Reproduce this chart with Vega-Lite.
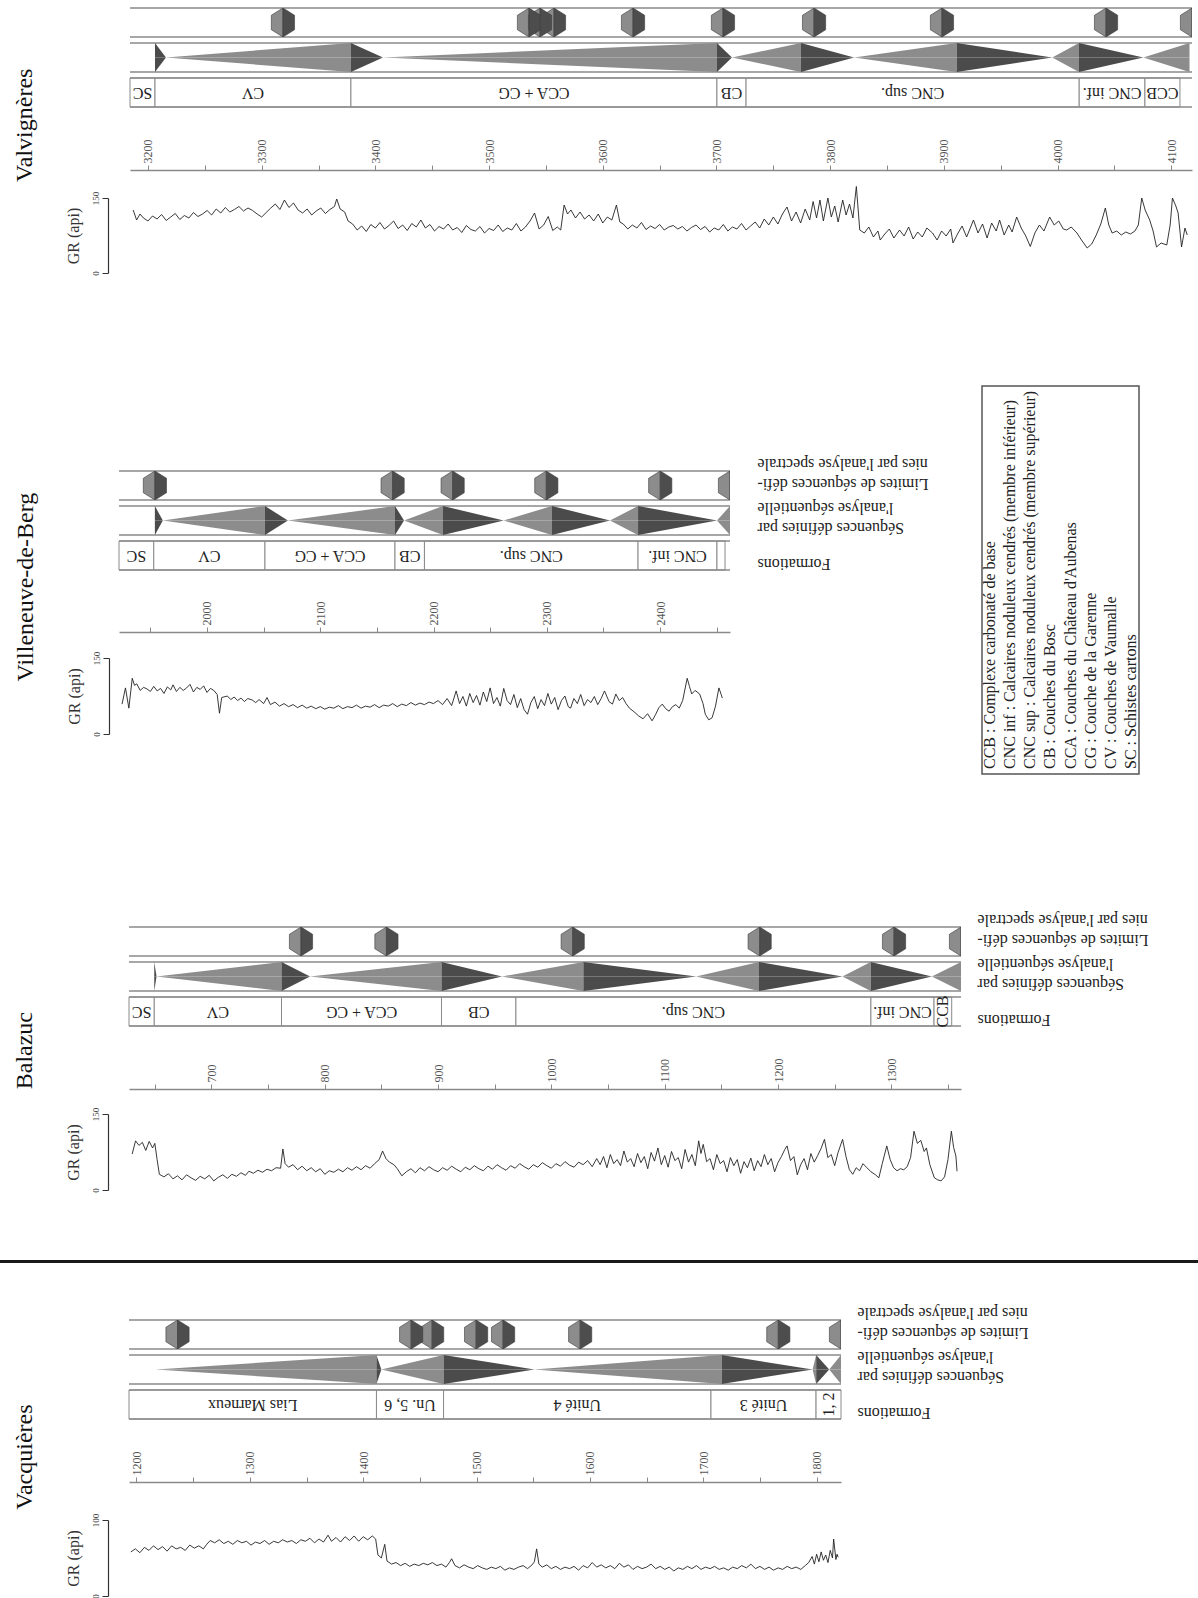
{
"$schema": "https://vega.github.io/schema/vega-lite/v6.json",
"padding": {"left": 0, "top": 7, "right": 0, "bottom": 0},
"background": "white",
"config": {
  "view": {"stroke": null},
  "font": "Liberation Serif",
  "title": {"font": "Liberation Serif", "fontWeight": "normal", "color": "#111"},
  "axisX": {"grid": false, "domainColor": "#8a8a8a", "domainWidth": 1.5, "tickColor": "#8a8a8a", "tickSize": 5, "labelAngle": 270, "labelAlign": "left", "labelBaseline": "middle", "labelPadding": 2, "labelFont": "Liberation Serif", "labelFontSize": 12, "labelColor": "#555", "labelFlush": false, "labelOverlap": false},
  "axisY": {"grid": false, "domainColor": "#333", "domainWidth": 1.2, "tickColor": "#333", "tickSize": 6, "labelAngle": 270, "labelAlign": "center", "labelBaseline": "bottom", "labelFont": "Liberation Serif", "labelFontSize": 9, "labelColor": "#444", "labelPadding": 2, "titleFont": "Liberation Serif", "titleFontSize": 16, "titleFontWeight": "normal", "titleColor": "#333", "titlePadding": 10, "labelFlush": false}
},
"datasets": {
  "hex": [
    {"s":"val","d":3318.7},{"s":"val","d":3535.1},{"s":"val","d":3544.8},{"s":"val","d":3557.1},{"s":"val","d":3626.6},{"s":"val","d":3705.7},{"s":"val","d":3785.8},{"s":"val","d":3898.3},{"s":"val","d":4042.6},{"s":"val","d":4118.2},
    {"s":"vil","d":1954},{"s":"vil","d":2163.9},{"s":"vil","d":2216.9},{"s":"vil","d":2299.6},{"s":"vil","d":2400.2},{"s":"vil","d":2461.8},
    {"s":"bal","d":779},{"s":"bal","d":854.4},{"s":"bal","d":1018.8},{"s":"bal","d":1183.8},{"s":"bal","d":1302.4},{"s":"bal","d":1361.5},
    {"s":"vac","d":1236.2},{"s":"vac","d":1442.3},{"s":"vac","d":1460.8},{"s":"vac","d":1499.6},{"s":"vac","d":1523.4},{"s":"vac","d":1591.4},{"s":"vac","d":1766.2},{"s":"vac","d":1821.5}
  ],
  "seq": [
    {"s":"val","t":1,"p":"f","d":3206.2,"a":1},{"s":"val","t":1,"p":"f","d":3215.8,"a":0},
    {"s":"val","t":2,"p":"r","d":3215.8,"a":0},{"s":"val","t":2,"p":"r","d":3378.5,"a":1},
    {"s":"val","t":3,"p":"f","d":3378.5,"a":1},{"s":"val","t":3,"p":"f","d":3406.7,"a":0},
    {"s":"val","t":4,"p":"r","d":3406.7,"a":0},{"s":"val","t":4,"p":"r","d":3700.4,"a":1},
    {"s":"val","t":5,"p":"f","d":3700.4,"a":1},{"s":"val","t":5,"p":"f","d":3713.6,"a":0},
    {"s":"val","t":6,"p":"r","d":3713.6,"a":0},{"s":"val","t":6,"p":"r","d":3774.3,"a":1},
    {"s":"val","t":7,"p":"f","d":3774.3,"a":1},{"s":"val","t":7,"p":"f","d":3821,"a":0},
    {"s":"val","t":8,"p":"r","d":3821,"a":0},{"s":"val","t":8,"p":"r","d":3911.2,"a":1},
    {"s":"val","t":9,"p":"f","d":3911.2,"a":1},{"s":"val","t":9,"p":"f","d":3995.3,"a":0},
    {"s":"val","t":10,"p":"r","d":3995.3,"a":0},{"s":"val","t":10,"p":"r","d":4018.8,"a":1},
    {"s":"val","t":11,"p":"f","d":4018.8,"a":1},{"s":"val","t":11,"p":"f","d":4075.4,"a":0},
    {"s":"val","t":12,"p":"r","d":4075.4,"a":0},{"s":"val","t":12,"p":"r","d":4116,"a":1},
    {"s":"vil","t":1,"p":"f","d":1954,"a":1},{"s":"vil","t":1,"p":"f","d":1961,"a":0},
    {"s":"vil","t":2,"p":"r","d":1961,"a":0},{"s":"vil","t":2,"p":"r","d":2051.2,"a":1},
    {"s":"vil","t":3,"p":"f","d":2051.2,"a":1},{"s":"vil","t":3,"p":"f","d":2071.4,"a":0},
    {"s":"vil","t":4,"p":"r","d":2071.4,"a":0},{"s":"vil","t":4,"p":"r","d":2166,"a":1},
    {"s":"vil","t":5,"p":"f","d":2166,"a":1},{"s":"vil","t":5,"p":"f","d":2174,"a":0},
    {"s":"vil","t":6,"p":"r","d":2174,"a":0},{"s":"vil","t":6,"p":"r","d":2208.4,"a":1},
    {"s":"vil","t":7,"p":"f","d":2208.4,"a":1},{"s":"vil","t":7,"p":"f","d":2262,"a":0},
    {"s":"vil","t":8,"p":"r","d":2262,"a":0},{"s":"vil","t":8,"p":"r","d":2304.6,"a":1},
    {"s":"vil","t":9,"p":"f","d":2304.6,"a":1},{"s":"vil","t":9,"p":"f","d":2355.8,"a":0},
    {"s":"vil","t":10,"p":"r","d":2355.8,"a":0},{"s":"vil","t":10,"p":"r","d":2380.6,"a":1},
    {"s":"vil","t":11,"p":"f","d":2380.6,"a":1},{"s":"vil","t":11,"p":"f","d":2450.3,"a":0},
    {"s":"vil","t":12,"p":"r","d":2450.3,"a":0},{"s":"vil","t":12,"p":"r","d":2461.8,"a":1},
    {"s":"bal","t":1,"p":"f","d":649.5,"a":1},{"s":"bal","t":1,"p":"f","d":651.5,"a":0},
    {"s":"bal","t":2,"p":"r","d":651.5,"a":0},{"s":"bal","t":2,"p":"r","d":761.8,"a":1},
    {"s":"bal","t":3,"p":"f","d":761.8,"a":1},{"s":"bal","t":3,"p":"f","d":787,"a":0},
    {"s":"bal","t":4,"p":"r","d":787,"a":0},{"s":"bal","t":4,"p":"r","d":903,"a":1},
    {"s":"bal","t":5,"p":"f","d":903,"a":1},{"s":"bal","t":5,"p":"f","d":956.4,"a":0},
    {"s":"bal","t":6,"p":"r","d":956.4,"a":0},{"s":"bal","t":6,"p":"r","d":1028.2,"a":1},
    {"s":"bal","t":7,"p":"f","d":1028.2,"a":1},{"s":"bal","t":7,"p":"f","d":1127.7,"a":0},
    {"s":"bal","t":8,"p":"r","d":1127.7,"a":0},{"s":"bal","t":8,"p":"r","d":1183.2,"a":1},
    {"s":"bal","t":9,"p":"f","d":1183.2,"a":1},{"s":"bal","t":9,"p":"f","d":1256.8,"a":0},
    {"s":"bal","t":10,"p":"r","d":1256.8,"a":0},{"s":"bal","t":10,"p":"r","d":1281.8,"a":1},
    {"s":"bal","t":11,"p":"f","d":1281.8,"a":1},{"s":"bal","t":11,"p":"f","d":1335.8,"a":0},
    {"s":"bal","t":12,"p":"r","d":1335.8,"a":0},{"s":"bal","t":12,"p":"r","d":1361.5,"a":1},
    {"s":"vac","t":1,"p":"r","d":1217,"a":0},{"s":"vac","t":1,"p":"r","d":1411.7,"a":1},
    {"s":"vac","t":2,"p":"f","d":1411.7,"a":1},{"s":"vac","t":2,"p":"f","d":1416,"a":0},
    {"s":"vac","t":3,"p":"r","d":1416,"a":0},{"s":"vac","t":3,"p":"r","d":1470.9,"a":1},
    {"s":"vac","t":4,"p":"f","d":1470.9,"a":1},{"s":"vac","t":4,"p":"f","d":1550.9,"a":0},
    {"s":"vac","t":5,"p":"r","d":1550.9,"a":0},{"s":"vac","t":5,"p":"r","d":1716.2,"a":1},
    {"s":"vac","t":6,"p":"f","d":1716.2,"a":1},{"s":"vac","t":6,"p":"f","d":1796.4,"a":0},
    {"s":"vac","t":7,"p":"r","d":1796.4,"a":0},{"s":"vac","t":7,"p":"r","d":1799.6,"a":1},
    {"s":"vac","t":8,"p":"f","d":1799.6,"a":1},{"s":"vac","t":8,"p":"f","d":1811.1,"a":0},
    {"s":"vac","t":9,"p":"r","d":1811.1,"a":0},{"s":"vac","t":9,"p":"r","d":1821.5,"a":1}
  ],
  "form": [
    {"s":"val","n":"SC","d0":3184.2,"d1":3206.2},{"s":"val","n":"CV","d0":3206.2,"d1":3378.5},{"s":"val","n":"CCA + CG","d0":3378.5,"d1":3700.4},{"s":"val","n":"CB","d0":3700.4,"d1":3726},{"s":"val","n":"CNC sup.","d0":3726,"d1":4019},{"s":"val","n":"CNC inf.","d0":4019,"d1":4076.8},{"s":"val","n":"CCB","d0":4076.8,"d1":4107.6},
    {"s":"vil","n":"SC","d0":1922.3,"d1":1953},{"s":"vil","n":"CV","d0":1953,"d1":2051.2},{"s":"vil","n":"CCA + CG","d0":2051.2,"d1":2166},{"s":"vil","n":"CB","d0":2166,"d1":2192},{"s":"vil","n":"CNC sup.","d0":2192,"d1":2380.6},{"s":"vil","n":"CNC inf.","d0":2380.6,"d1":2450.3},{"s":"vil","n":"","d0":2450.3,"d1":2457.4},
    {"s":"bal","n":"SC","d0":627.2,"d1":649.5},{"s":"bal","n":"CV","d0":649.5,"d1":761.8},{"s":"bal","n":"CCA + CG","d0":761.8,"d1":903},{"s":"bal","n":"CB","d0":903,"d1":968.7},{"s":"bal","n":"CNC sup.","d0":968.7,"d1":1282},{"s":"bal","n":"CNC inf.","d0":1282,"d1":1337.7},{"s":"bal","n":"CCB","d0":1337.7,"d1":1353.3},
    {"s":"vac","n":"Lias Marneux","d0":1193.4,"d1":1411.7},{"s":"vac","n":"Un. 5, 6","d0":1411.7,"d1":1470.9},{"s":"vac","n":"Unité 4","d0":1470.9,"d1":1706.8},{"s":"vac","n":"Unité 3","d0":1706.8,"d1":1799.5},{"s":"vac","n":"1, 2","d0":1799.5,"d1":1821.5}
  ],
  "leg": [
    {"i":1,"t":"CCB : Complexe carbonaté de base"},
    {"i":2,"t":"CNC inf : Calcaires noduleux cendrés (membre inférieur)"},
    {"i":3,"t":"CNC sup : Calcaires noduleux cendrés (membre supérieur)"},
    {"i":4,"t":"CB : Couches du Bosc"},
    {"i":5,"t":"CCA : Couches du Château d'Aubenas"},
    {"i":6,"t":"CG : Couche de la Garenne"},
    {"i":7,"t":"CV : Couches de Vaumalle"},
    {"i":8,"t":"SC : Schistes cartons"}
  ],
  "gval": [
    {"d":3187,"g":126},{"d":3190,"g":106},{"d":3193,"g":118},{"d":3196,"g":110},{"d":3200,"g":104},{"d":3204,"g":114},{"d":3208,"g":108},{"d":3212,"g":117},{"d":3216,"g":105},{"d":3220,"g":112},{"d":3224,"g":119},{"d":3228,"g":107},{"d":3232,"g":115},{"d":3236,"g":110},{"d":3240,"g":121},{"d":3244,"g":113},{"d":3248,"g":118},{"d":3252,"g":125},{"d":3256,"g":116},{"d":3260,"g":128},{"d":3264,"g":120},{"d":3268,"g":131},{"d":3272,"g":122},{"d":3276,"g":127},{"d":3280,"g":133},{"d":3284,"g":124},{"d":3288,"g":130},{"d":3292,"g":125},{"d":3296,"g":118},{"d":3300,"g":112},{"d":3304,"g":121},{"d":3308,"g":130},{"d":3312,"g":138},{"d":3316,"g":127},{"d":3320,"g":146},{"d":3324,"g":131},{"d":3328,"g":140},{"d":3332,"g":126},{"d":3336,"g":120},{"d":3340,"g":128},{"d":3344,"g":116},{"d":3348,"g":124},{"d":3352,"g":130},{"d":3356,"g":119},{"d":3360,"g":127},{"d":3364,"g":133},{"d":3366,"g":148},{"d":3369,"g":128},{"d":3373,"g":122},{"d":3376,"g":104},
    {"d":3380,"g":98},{"d":3384,"g":86},{"d":3388,"g":94},{"d":3392,"g":83},{"d":3396,"g":97},{"d":3400,"g":90},{"d":3404,"g":101},{"d":3408,"g":88},{"d":3412,"g":95},{"d":3416,"g":104},{"d":3420,"g":89},{"d":3424,"g":96},{"d":3428,"g":85},{"d":3432,"g":99},{"d":3436,"g":92},{"d":3440,"g":106},{"d":3444,"g":90},{"d":3448,"g":97},{"d":3452,"g":84},{"d":3456,"g":93},{"d":3460,"g":88},{"d":3464,"g":98},{"d":3468,"g":86},{"d":3472,"g":91},{"d":3476,"g":81},{"d":3480,"g":95},{"d":3484,"g":87},{"d":3488,"g":84},{"d":3492,"g":93},{"d":3496,"g":80},{"d":3500,"g":89},{"d":3504,"g":85},{"d":3508,"g":96},{"d":3512,"g":83},{"d":3516,"g":90},{"d":3520,"g":86},{"d":3524,"g":99},{"d":3528,"g":84},{"d":3532,"g":92},{"d":3536,"g":104},{"d":3540,"g":120},{"d":3544,"g":88},{"d":3548,"g":96},{"d":3552,"g":113},{"d":3556,"g":85},{"d":3560,"g":92},{"d":3563,"g":86},
    {"d":3566,"g":136},{"d":3569,"g":118},{"d":3572,"g":126},{"d":3576,"g":110},{"d":3580,"g":122},{"d":3584,"g":108},{"d":3588,"g":116},{"d":3592,"g":104},{"d":3596,"g":118},{"d":3600,"g":100},{"d":3604,"g":112},{"d":3608,"g":106},{"d":3612,"g":136},{"d":3615,"g":102},
    {"d":3618,"g":98},{"d":3622,"g":88},{"d":3626,"g":96},{"d":3630,"g":90},{"d":3634,"g":101},{"d":3638,"g":87},{"d":3642,"g":94},{"d":3646,"g":89},{"d":3650,"g":97},{"d":3654,"g":86},{"d":3658,"g":92},{"d":3662,"g":95},{"d":3666,"g":88},{"d":3670,"g":93},{"d":3674,"g":84},{"d":3678,"g":91},{"d":3682,"g":96},{"d":3686,"g":87},{"d":3690,"g":93},{"d":3694,"g":82},{"d":3698,"g":90},{"d":3702,"g":86},{"d":3706,"g":97},{"d":3710,"g":84},{"d":3714,"g":92},{"d":3718,"g":88},{"d":3722,"g":99},{"d":3726,"g":86},
    {"d":3730,"g":94},{"d":3734,"g":102},{"d":3738,"g":90},{"d":3742,"g":108},{"d":3746,"g":96},{"d":3750,"g":112},{"d":3754,"g":98},{"d":3758,"g":118},{"d":3762,"g":132},{"d":3766,"g":104},{"d":3770,"g":122},{"d":3774,"g":100},{"d":3778,"g":128},{"d":3782,"g":106},{"d":3785,"g":143},{"d":3788,"g":110},{"d":3791,"g":146},{"d":3794,"g":104},{"d":3798,"g":150},{"d":3801,"g":112},{"d":3804,"g":134},{"d":3807,"g":102},{"d":3811,"g":146},{"d":3814,"g":116},{"d":3817,"g":138},{"d":3820,"g":110},{"d":3823,"g":173},{"d":3826,"g":86},
    {"d":3830,"g":80},{"d":3834,"g":92},{"d":3838,"g":72},{"d":3842,"g":84},{"d":3844,"g":66},{"d":3848,"g":78},{"d":3852,"g":88},{"d":3856,"g":70},{"d":3861,"g":86},{"d":3865,"g":74},{"d":3869,"g":92},{"d":3873,"g":68},{"d":3877,"g":82},{"d":3881,"g":72},{"d":3885,"g":90},{"d":3890,"g":80},{"d":3894,"g":66},{"d":3898,"g":84},{"d":3902,"g":74},{"d":3906,"g":88},{"d":3908,"g":60},{"d":3912,"g":78},{"d":3916,"g":94},{"d":3920,"g":72},
    {"d":3926,"g":106},{"d":3930,"g":80},{"d":3934,"g":98},{"d":3938,"g":70},{"d":3942,"g":100},{"d":3946,"g":84},{"d":3949,"g":106},{"d":3953,"g":76},{"d":3957,"g":96},{"d":3960,"g":82},{"d":3964,"g":112},{"d":3968,"g":90},{"d":3972,"g":74},{"d":3976,"g":53},{"d":3980,"g":80},{"d":3984,"g":96},{"d":3988,"g":84},{"d":3993,"g":112},{"d":3997,"g":96},{"d":4001,"g":104},{"d":4005,"g":88},{"d":4008,"g":86},{"d":4012,"g":92},{"d":4017,"g":80},
    {"d":4021,"g":66},{"d":4026,"g":50},{"d":4030,"g":58},{"d":4034,"g":76},{"d":4038,"g":98},{"d":4042,"g":130},{"d":4045,"g":96},{"d":4048,"g":80},{"d":4052,"g":84},{"d":4056,"g":76},{"d":4060,"g":82},{"d":4064,"g":78},{"d":4068,"g":84},{"d":4071,"g":96},{"d":4074,"g":150},{"d":4077,"g":126},{"d":4081,"g":106},{"d":4084,"g":84},{"d":4087,"g":52},{"d":4091,"g":60},{"d":4096,"g":56},{"d":4099,"g":96},{"d":4101,"g":150},{"d":4104,"g":134},{"d":4106,"g":120},{"d":4109,"g":52},{"d":4112,"g":90},{"d":4114,"g":76}
  ],
  "gvil": [
    {"d":1925,"g":59},{"d":1928,"g":91},{"d":1931,"g":51},{"d":1934,"g":110},{"d":1936,"g":96},{"d":1938,"g":99},{"d":1941,"g":86},{"d":1944,"g":92},{"d":1947,"g":89},{"d":1950,"g":84},{"d":1953,"g":94},{"d":1956,"g":85},{"d":1959,"g":90},{"d":1962,"g":80},{"d":1965,"g":93},{"d":1968,"g":87},{"d":1970,"g":97},{"d":1973,"g":84},{"d":1976,"g":92},{"d":1979,"g":86},{"d":1982,"g":91},{"d":1985,"g":98},{"d":1988,"g":83},{"d":1991,"g":92},{"d":1994,"g":88},{"d":1997,"g":95},{"d":2000,"g":82},{"d":2003,"g":90},{"d":2006,"g":86},{"d":2009,"g":78},{"d":2011,"g":41},{"d":2013,"g":72},{"d":2018,"g":75},{"d":2021,"g":68},{"d":2024,"g":73},{"d":2027,"g":66},{"d":2030,"g":71},{"d":2033,"g":64},{"d":2036,"g":70},{"d":2040,"g":67},{"d":2043,"g":62},{"d":2046,"g":68},{"d":2050,"g":60},{"d":2053,"g":72},{"d":2056,"g":58},{"d":2060,"g":63},{"d":2064,"g":55},{"d":2068,"g":60},{"d":2072,"g":54},{"d":2076,"g":58},{"d":2080,"g":52},{"d":2084,"g":57},{"d":2088,"g":51},{"d":2092,"g":55},{"d":2096,"g":50},{"d":2100,"g":54},{"d":2104,"g":49},{"d":2108,"g":53},{"d":2112,"g":51},{"d":2116,"g":56},{"d":2120,"g":50},{"d":2124,"g":54},{"d":2128,"g":52},{"d":2132,"g":57},{"d":2136,"g":51},{"d":2140,"g":55},{"d":2144,"g":53},{"d":2148,"g":58},{"d":2152,"g":52},{"d":2156,"g":57},{"d":2160,"g":55},{"d":2164,"g":60},{"d":2168,"g":54},{"d":2172,"g":59},{"d":2176,"g":56},{"d":2180,"g":62},{"d":2184,"g":57},{"d":2188,"g":61},{"d":2192,"g":58},{"d":2196,"g":63},{"d":2200,"g":60},{"d":2204,"g":66},{"d":2208,"g":58},{"d":2212,"g":70},{"d":2216,"g":56},{"d":2220,"g":85},{"d":2223,"g":60},{"d":2226,"g":74},{"d":2229,"g":55},{"d":2232,"g":80},{"d":2235,"g":62},{"d":2238,"g":76},{"d":2241,"g":57},{"d":2244,"g":83},{"d":2247,"g":64},{"d":2250,"g":91},{"d":2253,"g":60},{"d":2256,"g":72},{"d":2259,"g":55},{"d":2262,"g":90},{"d":2265,"g":66},{"d":2268,"g":58},{"d":2271,"g":78},{"d":2274,"g":52},{"d":2277,"g":70},{"d":2280,"g":48},{"d":2283,"g":39},{"d":2286,"g":62},{"d":2289,"g":74},{"d":2292,"g":50},{"d":2295,"g":68},{"d":2298,"g":56},{"d":2301,"g":80},{"d":2304,"g":59},{"d":2307,"g":72},{"d":2310,"g":48},{"d":2313,"g":66},{"d":2316,"g":75},{"d":2319,"g":54},{"d":2321,"g":51},{"d":2324,"g":70},{"d":2327,"g":60},{"d":2330,"g":78},{"d":2333,"g":56},{"d":2336,"g":68},{"d":2339,"g":62},{"d":2342,"g":74},{"d":2345,"g":58},{"d":2348,"g":70},{"d":2351,"g":85},{"d":2355,"g":64},{"d":2358,"g":59},{"d":2361,"g":79},{"d":2364,"g":66},{"d":2367,"g":72},{"d":2370,"g":60},{"d":2373,"g":51},{"d":2377,"g":44},{"d":2381,"g":36},{"d":2385,"g":30},{"d":2389,"g":40},{"d":2393,"g":26},{"d":2396,"g":38},{"d":2399,"g":52},{"d":2402,"g":59},{"d":2405,"g":50},{"d":2408,"g":45},{"d":2411,"g":54},{"d":2414,"g":58},{"d":2417,"g":51},{"d":2420,"g":66},{"d":2424,"g":110},{"d":2426,"g":94},{"d":2428,"g":79},{"d":2431,"g":86},{"d":2435,"g":79},{"d":2438,"g":60},{"d":2440,"g":39},{"d":2443,"g":28},{"d":2446,"g":32},{"d":2449,"g":55},{"d":2452,"g":91},{"d":2454,"g":78},{"d":2455,"g":71}
  ],
  "gbal": [
    {"d":630,"g":71},{"d":633,"g":97},{"d":636,"g":88},{"d":639,"g":94},{"d":642,"g":78},{"d":645,"g":96},{"d":648,"g":83},{"d":650,"g":92},{"d":652,"g":60},{"d":654,"g":31},{"d":658,"g":26},{"d":662,"g":32},{"d":666,"g":22},{"d":670,"g":28},{"d":674,"g":20},{"d":678,"g":30},{"d":682,"g":24},{"d":686,"g":19},{"d":690,"g":27},{"d":694,"g":22},{"d":698,"g":29},{"d":702,"g":18},{"d":706,"g":25},{"d":710,"g":30},{"d":714,"g":23},{"d":718,"g":31},{"d":722,"g":27},{"d":726,"g":34},{"d":730,"g":29},{"d":733,"g":37},{"d":737,"g":33},{"d":741,"g":39},{"d":745,"g":35},{"d":749,"g":41},{"d":753,"g":38},{"d":757,"g":44},{"d":761,"g":43},{"d":763,"g":81},{"d":765,"g":52},{"d":768,"g":45},{"d":772,"g":50},{"d":776,"g":40},{"d":780,"g":47},{"d":784,"g":38},{"d":788,"g":44},{"d":792,"g":36},{"d":796,"g":42},{"d":800,"g":31},{"d":804,"g":38},{"d":808,"g":35},{"d":812,"g":41},{"d":816,"g":36},{"d":820,"g":44},{"d":824,"g":39},{"d":828,"g":46},{"d":832,"g":40},{"d":836,"g":48},{"d":840,"g":43},{"d":844,"g":52},{"d":848,"g":60},{"d":851,"g":77},{"d":854,"g":62},{"d":857,"g":55},{"d":861,"g":50},{"d":864,"g":42},{"d":868,"g":28},{"d":872,"g":36},{"d":876,"g":42},{"d":880,"g":34},{"d":884,"g":44},{"d":888,"g":38},{"d":892,"g":46},{"d":896,"g":40},{"d":900,"g":36},{"d":904,"g":44},{"d":908,"g":39},{"d":912,"g":47},{"d":916,"g":41},{"d":920,"g":36},{"d":924,"g":45},{"d":928,"g":40},{"d":932,"g":48},{"d":936,"g":42},{"d":940,"g":38},{"d":944,"g":47},{"d":948,"g":41},{"d":952,"g":50},{"d":956,"g":44},{"d":960,"g":39},{"d":964,"g":48},{"d":968,"g":43},{"d":972,"g":52},{"d":976,"g":46},{"d":980,"g":41},{"d":984,"g":50},{"d":988,"g":45},{"d":992,"g":54},{"d":996,"g":48},{"d":1000,"g":43},{"d":1004,"g":52},{"d":1008,"g":47},{"d":1012,"g":56},{"d":1016,"g":49},{"d":1020,"g":45},{"d":1024,"g":55},{"d":1028,"g":50},{"d":1032,"g":58},{"d":1036,"g":46},{"d":1040,"g":62},{"d":1043,"g":50},{"d":1046,"g":66},{"d":1049,"g":44},{"d":1052,"g":70},{"d":1055,"g":52},{"d":1058,"g":60},{"d":1061,"g":48},{"d":1064,"g":77},{"d":1067,"g":55},{"d":1070,"g":62},{"d":1073,"g":46},{"d":1076,"g":72},{"d":1079,"g":54},{"d":1082,"g":66},{"d":1085,"g":42},{"d":1088,"g":74},{"d":1091,"g":57},{"d":1094,"g":83},{"d":1097,"g":50},{"d":1100,"g":68},{"d":1103,"g":45},{"d":1106,"g":76},{"d":1109,"g":58},{"d":1112,"g":64},{"d":1115,"g":42},{"d":1118,"g":80},{"d":1121,"g":55},{"d":1124,"g":70},{"d":1127,"g":48},{"d":1130,"g":97},{"d":1132,"g":72},{"d":1134,"g":90},{"d":1137,"g":56},{"d":1140,"g":62},{"d":1143,"g":40},{"d":1146,"g":70},{"d":1149,"g":52},{"d":1152,"g":58},{"d":1155,"g":36},{"d":1158,"g":64},{"d":1161,"g":48},{"d":1164,"g":60},{"d":1167,"g":33},{"d":1170,"g":56},{"d":1173,"g":44},{"d":1176,"g":63},{"d":1179,"g":38},{"d":1182,"g":58},{"d":1185,"g":46},{"d":1188,"g":70},{"d":1191,"g":50},{"d":1194,"g":62},{"d":1197,"g":36},{"d":1200,"g":54},{"d":1203,"g":66},{"d":1206,"g":80},{"d":1208,"g":87},{"d":1211,"g":58},{"d":1214,"g":66},{"d":1217,"g":30},{"d":1220,"g":50},{"d":1223,"g":62},{"d":1226,"g":40},{"d":1229,"g":72},{"d":1232,"g":55},{"d":1235,"g":68},{"d":1238,"g":82},{"d":1241,"g":100},{"d":1244,"g":64},{"d":1247,"g":70},{"d":1250,"g":48},{"d":1253,"g":74},{"d":1257,"g":100},{"d":1260,"g":66},{"d":1263,"g":40},{"d":1266,"g":31},{"d":1269,"g":44},{"d":1272,"g":38},{"d":1275,"g":52},{"d":1278,"g":45},{"d":1282,"g":36},{"d":1286,"g":30},{"d":1289,"g":24},{"d":1292,"g":52},{"d":1296,"g":87},{"d":1299,"g":60},{"d":1302,"g":44},{"d":1305,"g":38},{"d":1308,"g":42},{"d":1311,"g":40},{"d":1314,"g":46},{"d":1317,"g":64},{"d":1320,"g":116},{"d":1323,"g":92},{"d":1326,"g":98},{"d":1329,"g":76},{"d":1331,"g":83},{"d":1334,"g":50},{"d":1338,"g":24},{"d":1341,"g":20},{"d":1344,"g":18},{"d":1347,"g":26},{"d":1350,"g":60},{"d":1353,"g":116},{"d":1355,"g":84},{"d":1357,"g":67},{"d":1358,"g":37}
  ],
  "gvac": [
    {"d":1195,"g":58},{"d":1199,"g":62},{"d":1203,"g":57},{"d":1207,"g":64},{"d":1211,"g":60},{"d":1215,"g":66},{"d":1219,"g":61},{"d":1223,"g":65},{"d":1227,"g":59},{"d":1231,"g":66},{"d":1235,"g":62},{"d":1239,"g":64},{"d":1243,"g":60},{"d":1247,"g":67},{"d":1251,"g":63},{"d":1255,"g":66},{"d":1259,"g":62},{"d":1262,"g":68},{"d":1265,"g":73},{"d":1269,"g":70},{"d":1273,"g":74},{"d":1277,"g":69},{"d":1281,"g":72},{"d":1285,"g":68},{"d":1289,"g":73},{"d":1293,"g":70},{"d":1297,"g":72},{"d":1301,"g":67},{"d":1305,"g":71},{"d":1309,"g":69},{"d":1313,"g":73},{"d":1317,"g":68},{"d":1321,"g":72},{"d":1325,"g":70},{"d":1329,"g":74},{"d":1333,"g":71},{"d":1337,"g":73},{"d":1341,"g":69},{"d":1345,"g":74},{"d":1349,"g":72},{"d":1353,"g":76},{"d":1357,"g":70},{"d":1361,"g":75},{"d":1365,"g":71},{"d":1369,"g":80},{"d":1372,"g":72},{"d":1376,"g":77},{"d":1380,"g":71},{"d":1384,"g":78},{"d":1388,"g":73},{"d":1392,"g":79},{"d":1396,"g":72},{"d":1400,"g":78},{"d":1404,"g":74},{"d":1408,"g":79},{"d":1411,"g":75},{"d":1413,"g":54},{"d":1416,"g":50},{"d":1419,"g":68},{"d":1421,"g":46},{"d":1425,"g":42},{"d":1429,"g":44},{"d":1433,"g":40},{"d":1437,"g":43},{"d":1441,"g":39},{"d":1445,"g":42},{"d":1449,"g":40},{"d":1453,"g":43},{"d":1457,"g":41},{"d":1461,"g":44},{"d":1465,"g":40},{"d":1469,"g":42},{"d":1473,"g":38},{"d":1476,"g":44},{"d":1478,"g":49},{"d":1481,"g":40},{"d":1485,"g":37},{"d":1489,"g":41},{"d":1493,"g":38},{"d":1497,"g":36},{"d":1501,"g":40},{"d":1505,"g":37},{"d":1509,"g":35},{"d":1513,"g":38},{"d":1517,"g":36},{"d":1521,"g":39},{"d":1525,"g":34},{"d":1529,"g":37},{"d":1533,"g":35},{"d":1537,"g":38},{"d":1541,"g":40},{"d":1545,"g":36},{"d":1549,"g":41},{"d":1551,"g":45},{"d":1553,"g":62},{"d":1555,"g":42},{"d":1558,"g":38},{"d":1562,"g":41},{"d":1566,"g":36},{"d":1570,"g":39},{"d":1574,"g":35},{"d":1578,"g":38},{"d":1582,"g":36},{"d":1586,"g":39},{"d":1590,"g":34},{"d":1594,"g":40},{"d":1598,"g":37},{"d":1602,"g":44},{"d":1606,"g":38},{"d":1610,"g":41},{"d":1614,"g":37},{"d":1618,"g":40},{"d":1622,"g":36},{"d":1626,"g":43},{"d":1630,"g":38},{"d":1634,"g":41},{"d":1638,"g":35},{"d":1642,"g":39},{"d":1646,"g":36},{"d":1650,"g":38},{"d":1654,"g":42},{"d":1658,"g":36},{"d":1662,"g":39},{"d":1666,"g":35},{"d":1670,"g":38},{"d":1674,"g":33},{"d":1678,"g":37},{"d":1682,"g":35},{"d":1686,"g":39},{"d":1690,"g":36},{"d":1694,"g":40},{"d":1698,"g":35},{"d":1702,"g":38},{"d":1706,"g":36},{"d":1710,"g":39},{"d":1714,"g":35},{"d":1718,"g":37},{"d":1722,"g":34},{"d":1726,"g":38},{"d":1730,"g":36},{"d":1734,"g":40},{"d":1738,"g":37},{"d":1742,"g":42},{"d":1746,"g":36},{"d":1750,"g":39},{"d":1754,"g":35},{"d":1758,"g":38},{"d":1762,"g":34},{"d":1766,"g":37},{"d":1770,"g":35},{"d":1774,"g":39},{"d":1778,"g":36},{"d":1782,"g":38},{"d":1786,"g":35},{"d":1790,"g":40},{"d":1793,"g":44},{"d":1796,"g":52},{"d":1798,"g":42},{"d":1800,"g":55},{"d":1802,"g":45},{"d":1804,"g":58},{"d":1806,"g":47},{"d":1808,"g":54},{"d":1810,"g":44},{"d":1812,"g":60},{"d":1814,"g":50},{"d":1815,"g":75},{"d":1817,"g":48},{"d":1818,"g":55},{"d":1819,"g":51}
  ]
},
"spacing": 0,
"vconcat": [
  {"spacing": 0, "hconcat": [
    {"width": 13, "height": 1, "data": {"values": []}, "mark": "point"},
    {"title": {"text": "Valvignères", "orient": "left", "anchor": "middle", "frame": "bounds", "fontSize": 24, "offset": 28, "dx": 16},
     "bounds": "flush", "spacing": 6,
     "vconcat": [
      {"width": 1062, "height": 29, "layer": [
        {"data": {"values": [{}]}, "mark": {"type": "rule", "color": "#8a8a8a", "strokeWidth": 1.5}, "encoding": {"y": {"datum": 0, "type": "quantitative", "scale": {"domain": [0, 1]}, "axis": null}}},
        {"data": {"values": [{}]}, "mark": {"type": "rule", "color": "#8a8a8a", "strokeWidth": 1.5}, "encoding": {"y": {"datum": 1, "type": "quantitative", "scale": {"domain": [0, 1]}, "axis": null}}},
        {"data": {"name": "hex"}, "transform": [{"filter": "datum.s === 'val'"}], "mark": {"type": "point", "shape": "M0,-1L-0.8,-0.5L-0.8,0.5L0,1Z", "size": 841, "filled": true, "color": "#8c8c8c", "stroke": "#3c3c3c", "strokeWidth": 0.6, "opacity": 1, "clip": true}, "encoding": {"x": {"field": "d", "type": "quantitative", "scale": {"domain": [3184.2, 4118.2], "nice": false, "zero": false}, "axis": null}}},
        {"data": {"name": "hex"}, "transform": [{"filter": "datum.s === 'val'"}], "mark": {"type": "point", "shape": "M0,-1L0.8,-0.5L0.8,0.5L0,1Z", "size": 841, "filled": true, "color": "#4d4d4d", "stroke": "#3c3c3c", "strokeWidth": 0.6, "opacity": 1, "clip": true}, "encoding": {"x": {"field": "d", "type": "quantitative", "scale": {"domain": [3184.2, 4118.2], "nice": false, "zero": false}, "axis": null}}}
      ]},
      {"width": 1062, "height": 29, "resolve": {"scale": {"y": "independent"}}, "layer": [
        {"data": {"values": [{}]}, "mark": {"type": "rule", "color": "#8a8a8a", "strokeWidth": 1.5}, "encoding": {"y": {"datum": 0, "type": "quantitative", "scale": {"domain": [0, 1]}, "axis": null}}},
        {"data": {"values": [{}]}, "mark": {"type": "rule", "color": "#8a8a8a", "strokeWidth": 1.5}, "encoding": {"y": {"datum": 1, "type": "quantitative", "scale": {"domain": [0, 1]}, "axis": null}}},
        {"data": {"name": "seq"}, "transform": [{"filter": "datum.s === 'val'"}], "mark": {"type": "area", "orient": "vertical", "opacity": 1}, "encoding": {"x": {"field": "d", "type": "quantitative", "scale": {"domain": [3184.2, 4118.2], "nice": false, "zero": false}, "axis": null}, "y": {"field": "a", "type": "quantitative", "scale": {"domain": [-1, 1]}, "axis": null, "stack": null}, "y2": {"datum": 0}, "detail": {"field": "t", "type": "nominal"}, "color": {"field": "p", "type": "nominal", "scale": {"domain": ["r", "f"], "range": ["#8c8c8c", "#4b4b4b"]}, "legend": null}}},
        {"data": {"name": "seq"}, "transform": [{"filter": "datum.s === 'val'"}], "mark": {"type": "area", "orient": "vertical", "opacity": 1}, "encoding": {"x": {"field": "d", "type": "quantitative", "scale": {"domain": [3184.2, 4118.2], "nice": false, "zero": false}, "axis": null}, "y": {"field": "a", "type": "quantitative", "scale": {"domain": [-1, 1], "reverse": true}, "axis": null, "stack": null}, "y2": {"datum": 0}, "detail": {"field": "t", "type": "nominal"}, "color": {"field": "p", "type": "nominal", "scale": {"domain": ["r", "f"], "range": ["#8c8c8c", "#4b4b4b"]}, "legend": null}}}
      ]},
      {"width": 1062, "height": 29, "layer": [
        {"data": {"name": "form"}, "transform": [{"filter": "datum.s === 'val'"}], "mark": {"type": "rect", "fill": "white", "stroke": "#8a8a8a", "strokeWidth": 1}, "encoding": {"x": {"field": "d0", "type": "quantitative", "scale": {"domain": [3184.2, 4118.2], "nice": false, "zero": false}, "axis": null}, "x2": {"field": "d1"}}},
        {"data": {"values": [{}]}, "mark": {"type": "rule", "color": "#8a8a8a", "strokeWidth": 1.5}, "encoding": {"y": {"datum": 0, "type": "quantitative", "scale": {"domain": [0, 1]}, "axis": null}}},
        {"data": {"values": [{}]}, "mark": {"type": "rule", "color": "#8a8a8a", "strokeWidth": 1.5}, "encoding": {"y": {"datum": 1, "type": "quantitative", "scale": {"domain": [0, 1]}, "axis": null}}},
        {"data": {"name": "form"}, "transform": [{"filter": "datum.s === 'val'"}, {"fold": ["d0", "d1"], "as": ["k", "v"]}], "mark": {"type": "text", "angle": 180, "fontSize": 16, "font": "Liberation Serif", "color": "#222", "baseline": "middle", "align": "center"}, "encoding": {"x": {"field": "v", "aggregate": "mean", "type": "quantitative", "scale": {"domain": [3184.2, 4118.2], "nice": false, "zero": false}, "axis": null}, "text": {"field": "n", "type": "nominal"}}}
      ]},
      {"width": 1, "height": 79, "data": {"values": []}, "mark": "point"},
      {"width": 1062, "height": 75, "data": {"name": "gval"}, "mark": {"type": "line", "color": "#222", "strokeWidth": 0.9},
       "encoding": {
         "x": {"field": "d", "type": "quantitative", "scale": {"domain": [3184.2, 4118.2], "nice": false, "zero": false}, "axis": {"orient": "top", "offset": 28, "title": null, "format": "d", "values": [3200,3250,3300,3350,3400,3450,3500,3550,3600,3650,3700,3750,3800,3850,3900,3950,4000,4050,4100], "labelExpr": "datum.value % 100 === 0 ? datum.label : ''"}},
         "y": {"field": "g", "type": "quantitative", "scale": {"domain": [0, 150], "nice": false}, "axis": {"offset": 22, "values": [0, 150], "title": "GR (api)"}}
       }}
    ]}
  ]},
  {"width": 1, "height": 109, "data": {"values": []}, "mark": "point"},
  {"spacing": 0, "hconcat": [
    {"width": 13, "height": 1, "data": {"values": []}, "mark": "point"},
    {"title": {"text": "Villeneuve-de-Berg", "orient": "left", "anchor": "middle", "frame": "bounds", "fontSize": 24, "offset": 28, "dx": -26},
     "bounds": "flush", "spacing": 6,
     "vconcat": [
      {"width": 1, "height": 79, "data": {"values": []}, "mark": "point"},
      {"width": 611, "height": 29, "layer": [
        {"data": {"values": [{}]}, "mark": {"type": "rule", "color": "#8a8a8a", "strokeWidth": 1.5}, "encoding": {"y": {"datum": 0, "type": "quantitative", "scale": {"domain": [0, 1]}, "axis": {"orient": "right", "domain": false, "ticks": false, "labels": false, "grid": false, "title": ["Limites de séquences défi-", "nies par l'analyse spectrale"], "titleAngle": 180, "titleAlign": "right", "titleBaseline": "middle", "titleX": 27, "titleY": 12, "titleFontSize": 16, "titleColor": "#222", "titleLineHeight": 20}}}},
        {"data": {"values": [{}]}, "mark": {"type": "rule", "color": "#8a8a8a", "strokeWidth": 1.5}, "encoding": {"y": {"datum": 1, "type": "quantitative", "scale": {"domain": [0, 1]}, "axis": {"orient": "right", "domain": false, "ticks": false, "labels": false, "grid": false, "title": ["Limites de séquences défi-", "nies par l'analyse spectrale"], "titleAngle": 180, "titleAlign": "right", "titleBaseline": "middle", "titleX": 27, "titleY": 12, "titleFontSize": 16, "titleColor": "#222", "titleLineHeight": 20}}}},
        {"data": {"name": "hex"}, "transform": [{"filter": "datum.s === 'vil'"}], "mark": {"type": "point", "shape": "M0,-1L-0.8,-0.5L-0.8,0.5L0,1Z", "size": 841, "filled": true, "color": "#8c8c8c", "stroke": "#3c3c3c", "strokeWidth": 0.6, "opacity": 1, "clip": true}, "encoding": {"x": {"field": "d", "type": "quantitative", "scale": {"domain": [1922.3, 2461.8], "nice": false, "zero": false}, "axis": null}}},
        {"data": {"name": "hex"}, "transform": [{"filter": "datum.s === 'vil'"}], "mark": {"type": "point", "shape": "M0,-1L0.8,-0.5L0.8,0.5L0,1Z", "size": 841, "filled": true, "color": "#4d4d4d", "stroke": "#3c3c3c", "strokeWidth": 0.6, "opacity": 1, "clip": true}, "encoding": {"x": {"field": "d", "type": "quantitative", "scale": {"domain": [1922.3, 2461.8], "nice": false, "zero": false}, "axis": null}}}
      ]},
      {"width": 611, "height": 29, "resolve": {"scale": {"y": "independent"}}, "layer": [
        {"data": {"values": [{}]}, "mark": {"type": "rule", "color": "#8a8a8a", "strokeWidth": 1.5}, "encoding": {"y": {"datum": 0, "type": "quantitative", "scale": {"domain": [0, 1]}, "axis": {"orient": "right", "domain": false, "ticks": false, "labels": false, "grid": false, "title": ["Séquences définies par", "l'analyse séquentielle"], "titleAngle": 180, "titleAlign": "right", "titleBaseline": "middle", "titleX": 27, "titleY": 21, "titleFontSize": 16, "titleColor": "#222", "titleLineHeight": 20}}}},
        {"data": {"values": [{}]}, "mark": {"type": "rule", "color": "#8a8a8a", "strokeWidth": 1.5}, "encoding": {"y": {"datum": 1, "type": "quantitative", "scale": {"domain": [0, 1]}, "axis": null}}},
        {"data": {"name": "seq"}, "transform": [{"filter": "datum.s === 'vil'"}], "mark": {"type": "area", "orient": "vertical", "opacity": 1}, "encoding": {"x": {"field": "d", "type": "quantitative", "scale": {"domain": [1922.3, 2461.8], "nice": false, "zero": false}, "axis": null}, "y": {"field": "a", "type": "quantitative", "scale": {"domain": [-1, 1]}, "axis": null, "stack": null}, "y2": {"datum": 0}, "detail": {"field": "t", "type": "nominal"}, "color": {"field": "p", "type": "nominal", "scale": {"domain": ["r", "f"], "range": ["#8c8c8c", "#4b4b4b"]}, "legend": null}}},
        {"data": {"name": "seq"}, "transform": [{"filter": "datum.s === 'vil'"}], "mark": {"type": "area", "orient": "vertical", "opacity": 1}, "encoding": {"x": {"field": "d", "type": "quantitative", "scale": {"domain": [1922.3, 2461.8], "nice": false, "zero": false}, "axis": null}, "y": {"field": "a", "type": "quantitative", "scale": {"domain": [-1, 1], "reverse": true}, "axis": null, "stack": null}, "y2": {"datum": 0}, "detail": {"field": "t", "type": "nominal"}, "color": {"field": "p", "type": "nominal", "scale": {"domain": ["r", "f"], "range": ["#8c8c8c", "#4b4b4b"]}, "legend": null}}}
      ]},
      {"width": 611, "height": 29, "layer": [
        {"data": {"name": "form"}, "transform": [{"filter": "datum.s === 'vil'"}], "mark": {"type": "rect", "fill": "white", "stroke": "#8a8a8a", "strokeWidth": 1}, "encoding": {"x": {"field": "d0", "type": "quantitative", "scale": {"domain": [1922.3, 2461.8], "nice": false, "zero": false}, "axis": null}, "x2": {"field": "d1"}}},
        {"data": {"values": [{}]}, "mark": {"type": "rule", "color": "#8a8a8a", "strokeWidth": 1.5}, "encoding": {"y": {"datum": 0, "type": "quantitative", "scale": {"domain": [0, 1]}, "axis": {"orient": "right", "domain": false, "ticks": false, "labels": false, "grid": false, "title": "Formations", "titleAngle": 180, "titleAlign": "right", "titleBaseline": "middle", "titleX": 27, "titleY": 22, "titleFontSize": 16, "titleColor": "#222"}}}},
        {"data": {"values": [{}]}, "mark": {"type": "rule", "color": "#8a8a8a", "strokeWidth": 1.5}, "encoding": {"y": {"datum": 1, "type": "quantitative", "scale": {"domain": [0, 1]}, "axis": {"orient": "right", "domain": false, "ticks": false, "labels": false, "grid": false, "title": "Formations", "titleAngle": 180, "titleAlign": "right", "titleBaseline": "middle", "titleX": 27, "titleY": 22, "titleFontSize": 16, "titleColor": "#222"}}}},
        {"data": {"name": "form"}, "transform": [{"filter": "datum.s === 'vil'"}, {"fold": ["d0", "d1"], "as": ["k", "v"]}], "mark": {"type": "text", "angle": 180, "fontSize": 16, "font": "Liberation Serif", "color": "#222", "baseline": "middle", "align": "center"}, "encoding": {"x": {"field": "v", "aggregate": "mean", "type": "quantitative", "scale": {"domain": [1922.3, 2461.8], "nice": false, "zero": false}, "axis": null}, "text": {"field": "n", "type": "nominal"}}}
      ]},
      {"width": 1, "height": 76, "data": {"values": []}, "mark": "point"},
      {"width": 611, "height": 76, "data": {"name": "gvil"}, "mark": {"type": "line", "color": "#222", "strokeWidth": 0.9},
       "encoding": {
         "x": {"field": "d", "type": "quantitative", "scale": {"domain": [1922.3, 2461.8], "nice": false, "zero": false}, "axis": {"orient": "top", "offset": 26, "title": null, "format": "d", "values": [1950,2000,2050,2100,2150,2200,2250,2300,2350,2400,2450], "labelExpr": "datum.value % 100 === 0 ? datum.label : ''"}},
         "y": {"field": "g", "type": "quantitative", "scale": {"domain": [0, 150], "nice": false}, "axis": {"offset": 10, "values": [0, 150], "title": "GR (api)"}}
       }}
    ]},
    {"width": 52, "height": 1, "data": {"values": []}, "mark": "point"},
    {"width": 157, "height": 388, "view": {"stroke": "#555", "strokeWidth": 1.5}, "data": {"name": "leg"},
     "mark": {"type": "text", "angle": 270, "align": "left", "baseline": "middle", "fontSize": 16, "font": "Liberation Serif", "color": "#222", "dx": 5},
     "encoding": {
       "x": {"field": "i", "type": "ordinal", "scale": {"type": "point", "padding": 0.4}, "axis": null},
       "y": {"datum": 0, "type": "quantitative", "scale": {"domain": [0, 1]}, "axis": null},
       "text": {"field": "t", "type": "nominal"}
     }}
  ]},
  {"width": 1, "height": 116, "data": {"values": []}, "mark": "point"},
  {"spacing": 0, "hconcat": [
    {"width": 13, "height": 1, "data": {"values": []}, "mark": "point"},
    {"title": {"text": "Balazuc", "orient": "left", "anchor": "middle", "frame": "bounds", "fontSize": 24, "offset": 28, "dx": -9},
     "bounds": "flush", "spacing": 6,
     "vconcat": [
      {"width": 1, "height": 30, "data": {"values": []}, "mark": "point"},
      {"width": 832, "height": 29, "layer": [
        {"data": {"values": [{}]}, "mark": {"type": "rule", "color": "#8a8a8a", "strokeWidth": 1.5}, "encoding": {"y": {"datum": 0, "type": "quantitative", "scale": {"domain": [0, 1]}, "axis": {"orient": "right", "domain": false, "ticks": false, "labels": false, "grid": false, "title": ["Limites de séquences défi-", "nies par l'analyse spectrale"], "titleAngle": 180, "titleAlign": "right", "titleBaseline": "middle", "titleX": 16, "titleY": 12, "titleFontSize": 16, "titleColor": "#222", "titleLineHeight": 20}}}},
        {"data": {"values": [{}]}, "mark": {"type": "rule", "color": "#8a8a8a", "strokeWidth": 1.5}, "encoding": {"y": {"datum": 1, "type": "quantitative", "scale": {"domain": [0, 1]}, "axis": {"orient": "right", "domain": false, "ticks": false, "labels": false, "grid": false, "title": ["Limites de séquences défi-", "nies par l'analyse spectrale"], "titleAngle": 180, "titleAlign": "right", "titleBaseline": "middle", "titleX": 16, "titleY": 12, "titleFontSize": 16, "titleColor": "#222", "titleLineHeight": 20}}}},
        {"data": {"name": "hex"}, "transform": [{"filter": "datum.s === 'bal'"}], "mark": {"type": "point", "shape": "M0,-1L-0.8,-0.5L-0.8,0.5L0,1Z", "size": 841, "filled": true, "color": "#8c8c8c", "stroke": "#3c3c3c", "strokeWidth": 0.6, "opacity": 1, "clip": true}, "encoding": {"x": {"field": "d", "type": "quantitative", "scale": {"domain": [627.2, 1361.5], "nice": false, "zero": false}, "axis": null}}},
        {"data": {"name": "hex"}, "transform": [{"filter": "datum.s === 'bal'"}], "mark": {"type": "point", "shape": "M0,-1L0.8,-0.5L0.8,0.5L0,1Z", "size": 841, "filled": true, "color": "#4d4d4d", "stroke": "#3c3c3c", "strokeWidth": 0.6, "opacity": 1, "clip": true}, "encoding": {"x": {"field": "d", "type": "quantitative", "scale": {"domain": [627.2, 1361.5], "nice": false, "zero": false}, "axis": null}}}
      ]},
      {"width": 832, "height": 29, "resolve": {"scale": {"y": "independent"}}, "layer": [
        {"data": {"values": [{}]}, "mark": {"type": "rule", "color": "#8a8a8a", "strokeWidth": 1.5}, "encoding": {"y": {"datum": 0, "type": "quantitative", "scale": {"domain": [0, 1]}, "axis": {"orient": "right", "domain": false, "ticks": false, "labels": false, "grid": false, "title": ["Séquences définies par", "l'analyse séquentielle"], "titleAngle": 180, "titleAlign": "right", "titleBaseline": "middle", "titleX": 16, "titleY": 21, "titleFontSize": 16, "titleColor": "#222", "titleLineHeight": 20}}}},
        {"data": {"values": [{}]}, "mark": {"type": "rule", "color": "#8a8a8a", "strokeWidth": 1.5}, "encoding": {"y": {"datum": 1, "type": "quantitative", "scale": {"domain": [0, 1]}, "axis": null}}},
        {"data": {"name": "seq"}, "transform": [{"filter": "datum.s === 'bal'"}], "mark": {"type": "area", "orient": "vertical", "opacity": 1}, "encoding": {"x": {"field": "d", "type": "quantitative", "scale": {"domain": [627.2, 1361.5], "nice": false, "zero": false}, "axis": null}, "y": {"field": "a", "type": "quantitative", "scale": {"domain": [-1, 1]}, "axis": null, "stack": null}, "y2": {"datum": 0}, "detail": {"field": "t", "type": "nominal"}, "color": {"field": "p", "type": "nominal", "scale": {"domain": ["r", "f"], "range": ["#8c8c8c", "#4b4b4b"]}, "legend": null}}},
        {"data": {"name": "seq"}, "transform": [{"filter": "datum.s === 'bal'"}], "mark": {"type": "area", "orient": "vertical", "opacity": 1}, "encoding": {"x": {"field": "d", "type": "quantitative", "scale": {"domain": [627.2, 1361.5], "nice": false, "zero": false}, "axis": null}, "y": {"field": "a", "type": "quantitative", "scale": {"domain": [-1, 1], "reverse": true}, "axis": null, "stack": null}, "y2": {"datum": 0}, "detail": {"field": "t", "type": "nominal"}, "color": {"field": "p", "type": "nominal", "scale": {"domain": ["r", "f"], "range": ["#8c8c8c", "#4b4b4b"]}, "legend": null}}}
      ]},
      {"width": 832, "height": 29, "layer": [
        {"data": {"name": "form"}, "transform": [{"filter": "datum.s === 'bal'"}], "mark": {"type": "rect", "fill": "white", "stroke": "#8a8a8a", "strokeWidth": 1}, "encoding": {"x": {"field": "d0", "type": "quantitative", "scale": {"domain": [627.2, 1361.5], "nice": false, "zero": false}, "axis": null}, "x2": {"field": "d1"}}},
        {"data": {"values": [{}]}, "mark": {"type": "rule", "color": "#8a8a8a", "strokeWidth": 1.5}, "encoding": {"y": {"datum": 0, "type": "quantitative", "scale": {"domain": [0, 1]}, "axis": {"orient": "right", "domain": false, "ticks": false, "labels": false, "grid": false, "title": "Formations", "titleAngle": 180, "titleAlign": "right", "titleBaseline": "middle", "titleX": 16, "titleY": 22, "titleFontSize": 16, "titleColor": "#222"}}}},
        {"data": {"values": [{}]}, "mark": {"type": "rule", "color": "#8a8a8a", "strokeWidth": 1.5}, "encoding": {"y": {"datum": 1, "type": "quantitative", "scale": {"domain": [0, 1]}, "axis": {"orient": "right", "domain": false, "ticks": false, "labels": false, "grid": false, "title": "Formations", "titleAngle": 180, "titleAlign": "right", "titleBaseline": "middle", "titleX": 16, "titleY": 22, "titleFontSize": 16, "titleColor": "#222"}}}},
        {"data": {"name": "form"}, "transform": [{"filter": "datum.s === 'bal'"}, {"fold": ["d0", "d1"], "as": ["k", "v"]}], "mark": {"type": "text", "fontSize": 16, "font": "Liberation Serif", "color": "#222", "baseline": "middle", "align": "center"}, "encoding": {"x": {"field": "v", "aggregate": "mean", "type": "quantitative", "scale": {"domain": [627.2, 1361.5], "nice": false, "zero": false}, "axis": null}, "text": {"field": "n", "type": "nominal"}, "angle": {"condition": {"test": "datum.n === 'CCB'", "value": 270}, "value": 180}}}
      ]},
      {"width": 1, "height": 76, "data": {"values": []}, "mark": "point"},
      {"width": 832, "height": 76, "data": {"name": "gbal"}, "mark": {"type": "line", "color": "#222", "strokeWidth": 0.9},
       "encoding": {
         "x": {"field": "d", "type": "quantitative", "scale": {"domain": [627.2, 1361.5], "nice": false, "zero": false}, "axis": {"orient": "top", "offset": 25, "title": null, "format": "d", "values": [650,700,750,800,850,900,950,1000,1050,1100,1150,1200,1250,1300,1350], "labelExpr": "datum.value % 100 === 0 ? datum.label : ''"}},
         "y": {"field": "g", "type": "quantitative", "scale": {"domain": [0, 150], "nice": false}, "axis": {"offset": 21, "values": [0, 150], "title": "GR (api)"}}
       }}
    ]}
  ]},
  {"width": 1, "height": 67, "data": {"values": []}, "mark": "point"},
  {"width": 1198, "height": 3, "view": {"fill": "#1a1a1a", "stroke": null}, "data": {"values": []}, "mark": "point"},
  {"width": 1, "height": 21, "data": {"values": []}, "mark": "point"},
  {"spacing": 0, "hconcat": [
    {"width": 13, "height": 1, "data": {"values": []}, "mark": "point"},
    {"title": {"text": "Vacquières", "orient": "left", "anchor": "middle", "frame": "bounds", "fontSize": 24, "offset": 28, "dx": -16},
     "bounds": "flush", "spacing": 6,
     "vconcat": [
      {"width": 1, "height": 30, "data": {"values": []}, "mark": "point"},
      {"width": 712, "height": 29, "layer": [
        {"data": {"values": [{}]}, "mark": {"type": "rule", "color": "#8a8a8a", "strokeWidth": 1.5}, "encoding": {"y": {"datum": 0, "type": "quantitative", "scale": {"domain": [0, 1]}, "axis": {"orient": "right", "domain": false, "ticks": false, "labels": false, "grid": false, "title": ["Limites de séquences défi-", "nies par l'analyse spectrale"], "titleAngle": 180, "titleAlign": "right", "titleBaseline": "middle", "titleX": 16, "titleY": 12, "titleFontSize": 16, "titleColor": "#222", "titleLineHeight": 20}}}},
        {"data": {"values": [{}]}, "mark": {"type": "rule", "color": "#8a8a8a", "strokeWidth": 1.5}, "encoding": {"y": {"datum": 1, "type": "quantitative", "scale": {"domain": [0, 1]}, "axis": {"orient": "right", "domain": false, "ticks": false, "labels": false, "grid": false, "title": ["Limites de séquences défi-", "nies par l'analyse spectrale"], "titleAngle": 180, "titleAlign": "right", "titleBaseline": "middle", "titleX": 16, "titleY": 12, "titleFontSize": 16, "titleColor": "#222", "titleLineHeight": 20}}}},
        {"data": {"name": "hex"}, "transform": [{"filter": "datum.s === 'vac'"}], "mark": {"type": "point", "shape": "M0,-1L-0.8,-0.5L-0.8,0.5L0,1Z", "size": 841, "filled": true, "color": "#8c8c8c", "stroke": "#3c3c3c", "strokeWidth": 0.6, "opacity": 1, "clip": true}, "encoding": {"x": {"field": "d", "type": "quantitative", "scale": {"domain": [1193.4, 1821.5], "nice": false, "zero": false}, "axis": null}}},
        {"data": {"name": "hex"}, "transform": [{"filter": "datum.s === 'vac'"}], "mark": {"type": "point", "shape": "M0,-1L0.8,-0.5L0.8,0.5L0,1Z", "size": 841, "filled": true, "color": "#4d4d4d", "stroke": "#3c3c3c", "strokeWidth": 0.6, "opacity": 1, "clip": true}, "encoding": {"x": {"field": "d", "type": "quantitative", "scale": {"domain": [1193.4, 1821.5], "nice": false, "zero": false}, "axis": null}}}
      ]},
      {"width": 712, "height": 29, "resolve": {"scale": {"y": "independent"}}, "layer": [
        {"data": {"values": [{}]}, "mark": {"type": "rule", "color": "#8a8a8a", "strokeWidth": 1.5}, "encoding": {"y": {"datum": 0, "type": "quantitative", "scale": {"domain": [0, 1]}, "axis": {"orient": "right", "domain": false, "ticks": false, "labels": false, "grid": false, "title": ["Séquences définies par", "l'analyse séquentielle"], "titleAngle": 180, "titleAlign": "right", "titleBaseline": "middle", "titleX": 16, "titleY": 21, "titleFontSize": 16, "titleColor": "#222", "titleLineHeight": 20}}}},
        {"data": {"values": [{}]}, "mark": {"type": "rule", "color": "#8a8a8a", "strokeWidth": 1.5}, "encoding": {"y": {"datum": 1, "type": "quantitative", "scale": {"domain": [0, 1]}, "axis": null}}},
        {"data": {"name": "seq"}, "transform": [{"filter": "datum.s === 'vac'"}], "mark": {"type": "area", "orient": "vertical", "opacity": 1}, "encoding": {"x": {"field": "d", "type": "quantitative", "scale": {"domain": [1193.4, 1821.5], "nice": false, "zero": false}, "axis": null}, "y": {"field": "a", "type": "quantitative", "scale": {"domain": [-1, 1]}, "axis": null, "stack": null}, "y2": {"datum": 0}, "detail": {"field": "t", "type": "nominal"}, "color": {"field": "p", "type": "nominal", "scale": {"domain": ["r", "f"], "range": ["#8c8c8c", "#4b4b4b"]}, "legend": null}}},
        {"data": {"name": "seq"}, "transform": [{"filter": "datum.s === 'vac'"}], "mark": {"type": "area", "orient": "vertical", "opacity": 1}, "encoding": {"x": {"field": "d", "type": "quantitative", "scale": {"domain": [1193.4, 1821.5], "nice": false, "zero": false}, "axis": null}, "y": {"field": "a", "type": "quantitative", "scale": {"domain": [-1, 1], "reverse": true}, "axis": null, "stack": null}, "y2": {"datum": 0}, "detail": {"field": "t", "type": "nominal"}, "color": {"field": "p", "type": "nominal", "scale": {"domain": ["r", "f"], "range": ["#8c8c8c", "#4b4b4b"]}, "legend": null}}}
      ]},
      {"width": 712, "height": 29, "layer": [
        {"data": {"name": "form"}, "transform": [{"filter": "datum.s === 'vac'"}], "mark": {"type": "rect", "fill": "white", "stroke": "#8a8a8a", "strokeWidth": 1}, "encoding": {"x": {"field": "d0", "type": "quantitative", "scale": {"domain": [1193.4, 1821.5], "nice": false, "zero": false}, "axis": null}, "x2": {"field": "d1"}}},
        {"data": {"values": [{}]}, "mark": {"type": "rule", "color": "#8a8a8a", "strokeWidth": 1.5}, "encoding": {"y": {"datum": 0, "type": "quantitative", "scale": {"domain": [0, 1]}, "axis": {"orient": "right", "domain": false, "ticks": false, "labels": false, "grid": false, "title": "Formations", "titleAngle": 180, "titleAlign": "right", "titleBaseline": "middle", "titleX": 16, "titleY": 22, "titleFontSize": 16, "titleColor": "#222"}}}},
        {"data": {"values": [{}]}, "mark": {"type": "rule", "color": "#8a8a8a", "strokeWidth": 1.5}, "encoding": {"y": {"datum": 1, "type": "quantitative", "scale": {"domain": [0, 1]}, "axis": {"orient": "right", "domain": false, "ticks": false, "labels": false, "grid": false, "title": "Formations", "titleAngle": 180, "titleAlign": "right", "titleBaseline": "middle", "titleX": 16, "titleY": 22, "titleFontSize": 16, "titleColor": "#222"}}}},
        {"data": {"name": "form"}, "transform": [{"filter": "datum.s === 'vac'"}, {"fold": ["d0", "d1"], "as": ["k", "v"]}], "mark": {"type": "text", "fontSize": 16, "font": "Liberation Serif", "color": "#222", "baseline": "middle", "align": "center"}, "encoding": {"x": {"field": "v", "aggregate": "mean", "type": "quantitative", "scale": {"domain": [1193.4, 1821.5], "nice": false, "zero": false}, "axis": null}, "text": {"field": "n", "type": "nominal"}, "angle": {"condition": {"test": "datum.n === '1, 2'", "value": 270}, "value": 180}}}
      ]},
      {"width": 1, "height": 89, "data": {"values": []}, "mark": "point"},
      {"width": 712, "height": 76, "data": {"name": "gvac"}, "mark": {"type": "line", "color": "#222", "strokeWidth": 0.9},
       "encoding": {
         "x": {"field": "d", "type": "quantitative", "scale": {"domain": [1193.4, 1821.5], "nice": false, "zero": false}, "axis": {"orient": "top", "offset": 38, "title": null, "format": "d", "values": [1200,1250,1300,1350,1400,1450,1500,1550,1600,1650,1700,1750,1800], "labelExpr": "datum.value % 100 === 0 ? datum.label : ''"}},
         "y": {"field": "g", "type": "quantitative", "scale": {"domain": [0, 100], "nice": false}, "axis": {"offset": 21, "values": [0, 100], "title": "GR (api)"}}
       }}
    ]}
  ]}
]
}
